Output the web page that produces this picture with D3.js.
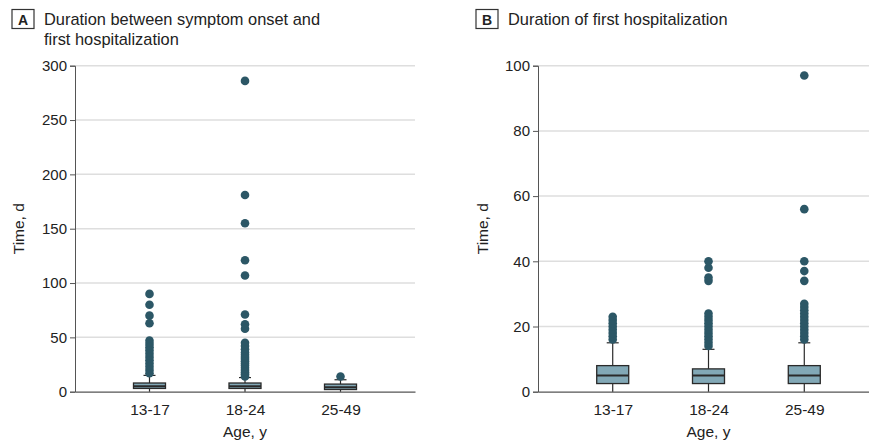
<!DOCTYPE html>
<html>
<head>
<meta charset="utf-8">
<script src="https://cdn.jsdelivr.net/npm/d3@7"></script>
<style>
  html, body { margin: 0; padding: 0; background: #fff; }
  svg { display: block; }
  text { font-family: "Liberation Sans", Arial, sans-serif; fill: #222; }
</style>
</head>
<body>
<svg id="chart" width="869" height="446"></svg>
<script>
// ---------- DATA ----------
const ageGroups = ["13-17", "18-24", "25-49"];

// Panel A: duration between symptom onset and first hospitalization (days)
const onsetWhiskerLow  = [0, 0, 0];
const onsetQ1          = [3, 3, 2];
const onsetMedian      = [5, 5, 4];
const onsetQ3          = [8, 8, 7];
const onsetWhiskerHigh = [15, 13, 11];
const onsetOutliers = [
  [90, 80, 70, 63, 47, 44, 41, 38, 35, 32, 29, 26, 23, 20, 17],
  [286, 181, 155, 121, 107, 71, 62, 58, 45, 42, 39, 36, 34, 32, 30, 28, 26, 24, 22, 20, 18, 16, 14],
  [14]
];
const onsetTicks = [0, 50, 100, 150, 200, 250, 300];

// Panel B: duration of first hospitalization (days)
const hospWhiskerLow  = [0, 0, 0];
const hospQ1          = [2.5, 2.5, 2.5];
const hospMedian      = [5, 5, 5];
const hospQ3          = [8, 7, 8];
const hospWhiskerHigh = [15, 13, 15];
const hospOutliers = [
  [16, 17, 18, 19, 20, 21, 22, 23],
  [14, 15, 16, 17, 18, 19, 20, 21, 22, 23, 24, 34, 35, 38, 40],
  [16, 17, 18, 19, 20, 21, 22, 23, 24, 25, 26, 27, 34, 37, 40, 56, 97]
];
const hospTicks = [0, 20, 40, 60, 80, 100];

const panelTitles = [
  ["Duration between symptom onset and", "first hospitalization"],
  ["Duration of first hospitalization"]
];
const panelLetters = ["A", "B"];
const xTitle = "Age, y";
const yTitle = "Time, d";

// ---------- STYLE ----------
const C = {
  dot: "#2c5766",
  boxFill: "#82a8b6",
  boxStroke: "#2a2a2a",
  grid: "#dedede",
  axis: "#555"
};
const titleFont = "'Liberation Sans Narrow', 'Liberation Sans', Arial, sans-serif";

const svg = d3.select("#chart");

function drawPanel(cfg) {
  const g = svg.append("g");
  const x = d3.scalePoint().domain(ageGroups).range([cfg.left, cfg.right]).padding(0.78);
  const y = d3.scaleLinear().domain([0, cfg.max]).range([cfg.bottom, cfg.top]);

  // gridlines
  g.append("g").selectAll("line").data(cfg.ticks.filter(t => t > 0)).join("line")
    .attr("x1", cfg.left).attr("x2", cfg.right)
    .attr("y1", d => y(d)).attr("y2", d => y(d))
    .attr("stroke", C.grid).attr("stroke-width", 1.5);

  // y axis
  const yAxis = d3.axisLeft(y).tickValues(cfg.ticks).tickSize(5).tickPadding(3);
  const ya = g.append("g").attr("transform", `translate(${cfg.left},0)`).call(yAxis);
  ya.select(".domain").attr("stroke", C.axis).attr("stroke-width", 1);
  ya.selectAll(".tick line").attr("stroke", C.axis);
  ya.selectAll(".tick text").style("font-size", "15px").style("font-family", "Liberation Sans, Arial, sans-serif").attr("fill", "#222");

  // x axis
  const xAxis = d3.axisBottom(x).tickSize(0).tickPadding(12);
  const xa = g.append("g").attr("transform", `translate(0,${cfg.bottom})`).call(xAxis);
  xa.select(".domain").attr("stroke", C.axis).attr("stroke-width", 1.2);
  xa.selectAll(".tick text").style("font-size", "15.5px").style("font-family", "Liberation Sans, Arial, sans-serif").attr("fill", "#222");

  // boxes
  ageGroups.forEach((a, i) => {
    const cx = x(a);
    const bw = 32;
    const cap = 12;
    g.append("line").attr("x1", cx).attr("x2", cx)
      .attr("y1", y(cfg.wLow[i])).attr("y2", y(cfg.q1[i]))
      .attr("stroke", C.boxStroke).attr("stroke-width", 1.2);
    g.append("line").attr("x1", cx).attr("x2", cx)
      .attr("y1", y(cfg.q3[i])).attr("y2", y(cfg.wHigh[i]))
      .attr("stroke", C.boxStroke).attr("stroke-width", 1.2);
    g.append("line").attr("x1", cx - cap / 2).attr("x2", cx + cap / 2)
      .attr("y1", y(cfg.wHigh[i])).attr("y2", y(cfg.wHigh[i]))
      .attr("stroke", C.boxStroke).attr("stroke-width", 1.2);
    g.append("rect").attr("x", cx - bw / 2).attr("width", bw)
      .attr("y", y(cfg.q3[i])).attr("height", y(cfg.q1[i]) - y(cfg.q3[i]))
      .attr("fill", C.boxFill).attr("stroke", C.boxStroke).attr("stroke-width", 1.3);
    g.append("line").attr("x1", cx - bw / 2).attr("x2", cx + bw / 2)
      .attr("y1", y(cfg.med[i])).attr("y2", y(cfg.med[i]))
      .attr("stroke", C.boxStroke).attr("stroke-width", 2);
    g.append("g").selectAll("circle").data(cfg.out[i]).join("circle")
      .attr("cx", cx).attr("cy", d => y(d)).attr("r", 4.3)
      .attr("fill", C.dot);
  });

  // axis titles
  g.append("text").attr("x", (cfg.left + cfg.right) / 2).attr("y", 437)
    .attr("text-anchor", "middle").style("font-size", "15.5px").text(xTitle);
  g.append("text").attr("transform", `translate(${cfg.yTitleX},${(cfg.top + cfg.bottom) / 2}) rotate(-90)`)
    .attr("text-anchor", "middle").style("font-size", "15.5px").text(yTitle);

  // panel label
  g.append("rect").attr("x", cfg.labelX).attr("y", 9.5).attr("width", 22).attr("height", 19)
    .attr("fill", "#fff").attr("stroke", "#333").attr("stroke-width", 1.2);
  g.append("text").attr("x", cfg.labelX + 11).attr("y", 24.5).attr("text-anchor", "middle")
    .style("font-size", "14px").style("font-weight", "bold").text(cfg.letter);
  cfg.title.forEach((t, k) => {
    g.append("text").attr("x", cfg.labelX + 32).attr("y", 25 + k * 19.5)
      .style("font-family", titleFont)
      .style("font-size", "16.4px").text(t);
  });
}

drawPanel({
  left: 75, right: 415, top: 65.7, bottom: 391.7, max: 300, ticks: onsetTicks,
  wLow: onsetWhiskerLow, q1: onsetQ1, med: onsetMedian, q3: onsetQ3, wHigh: onsetWhiskerHigh,
  out: onsetOutliers, yTitleX: 24, labelX: 12, letter: panelLetters[0], title: panelTitles[0]
});

drawPanel({
  left: 538, right: 879, top: 65.7, bottom: 391.7, max: 100, ticks: hospTicks,
  wLow: hospWhiskerLow, q1: hospQ1, med: hospMedian, q3: hospQ3, wHigh: hospWhiskerHigh,
  out: hospOutliers, yTitleX: 488, labelX: 476, letter: panelLetters[1], title: panelTitles[1]
});
</script>
</body>
</html>
